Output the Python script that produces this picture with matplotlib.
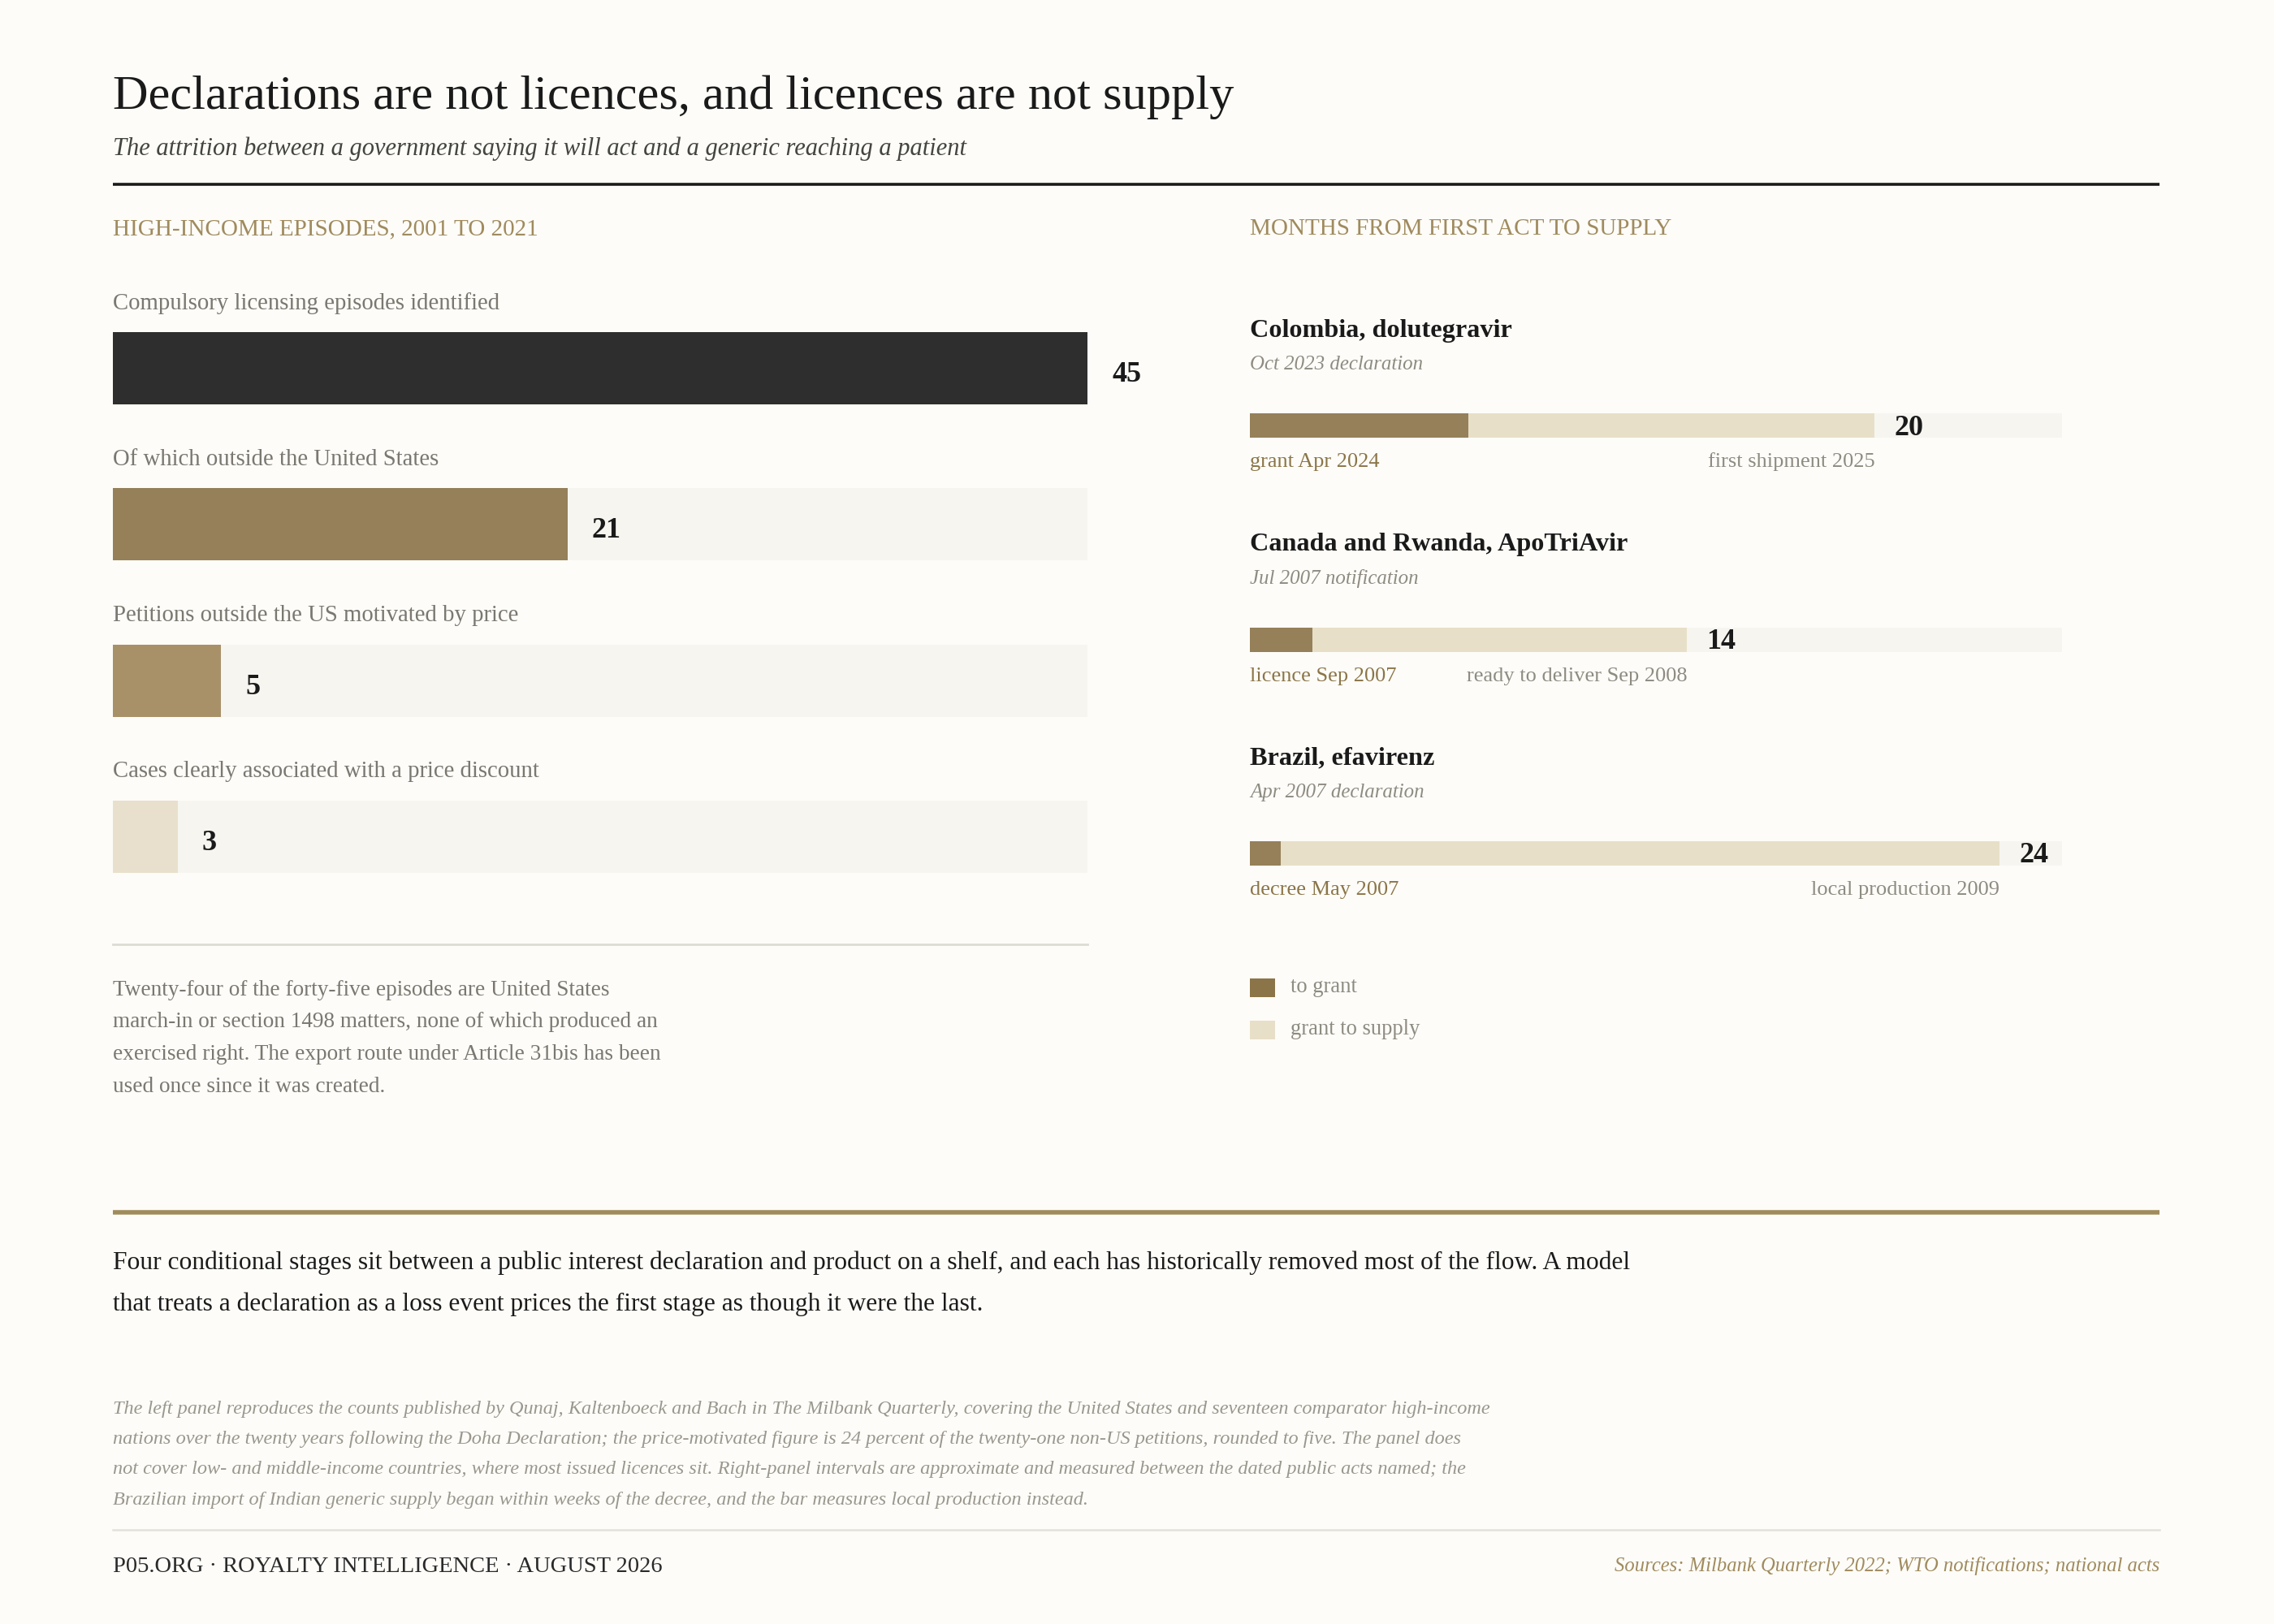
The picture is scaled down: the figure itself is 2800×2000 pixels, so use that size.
import matplotlib
matplotlib.use("Agg")
import matplotlib.pyplot as plt
from matplotlib.patches import Rectangle

# ---------------- data ----------------
left_labels = ["Compulsory licensing episodes identified",
               "Of which outside the United States",
               "Petitions outside the US motivated by price",
               "Cases clearly associated with a price discount"]
left_values = [45, 21, 5, 3]
left_max = 45

cases = ["Colombia, dolutegravir", "Canada and Rwanda, ApoTriAvir", "Brazil, efavirenz"]
case_sub = ["Oct 2023 declaration", "Jul 2007 notification", "Apr 2007 declaration"]
months_to_grant = [7, 2, 1]
months_total = [20, 14, 24]
grant_labels = ["grant Apr 2024", "licence Sep 2007", "decree May 2007"]
supply_labels = ["first shipment 2025", "ready to deliver Sep 2008", "local production 2009"]
right_max = 26

legend_labels = ["to grant", "grant to supply"]

title = "Declarations are not licences, and licences are not supply"
subtitle = "The attrition between a government saying it will act and a generic reaching a patient"
left_header = "HIGH-INCOME EPISODES, 2001 TO 2021"
right_header = "MONTHS FROM FIRST ACT TO SUPPLY"
note_lines = ["Twenty-four of the forty-five episodes are United States",
              "march-in or section 1498 matters, none of which produced an",
              "exercised right. The export route under Article 31bis has been",
              "used once since it was created."]
para_lines = ["Four conditional stages sit between a public interest declaration and product on a shelf, and each has historically removed most of the flow. A model",
              "that treats a declaration as a loss event prices the first stage as though it were the last."]
foot_lines = ["The left panel reproduces the counts published by Qunaj, Kaltenboeck and Bach in The Milbank Quarterly, covering the United States and seventeen comparator high-income",
              "nations over the twenty years following the Doha Declaration; the price-motivated figure is 24 percent of the twenty-one non-US petitions, rounded to five. The panel does",
              "not cover low- and middle-income countries, where most issued licences sit. Right-panel intervals are approximate and measured between the dated public acts named; the",
              "Brazilian import of Indian generic supply began within weeks of the decree, and the bar measures local production instead."]
footer_left = "P05.ORG · ROYALTY INTELLIGENCE · AUGUST 2026"
footer_right = "Sources: Milbank Quarterly 2022; WTO notifications; national acts"

# ---------------- style ----------------
BG = "#FDFCF8"
INK = "#1A1A1A"
GOLD = "#A08B5E"
GREY = "#7A7870"
LGREY = "#8E8B81"
TRACK = "#F6F5F0"
left_colors = ["#2E2E2E", "#95805A", "#A89068", "#E8E0CC"]
C_GRANT = "#95805A"
C_SUPPLY = "#E8DFC8"
SERIF = ["Liberation Serif", "DejaVu Serif"]
plt.rcParams["font.family"] = SERIF

W, H = 2800, 2000
fig = plt.figure(figsize=(W / 100, H / 100), dpi=100, facecolor=BG)

canvas = fig.add_axes([0, 0, 1, 1])
canvas.set_xlim(0, W)
canvas.set_ylim(H, 0)
canvas.axis("off")
canvas.set_facecolor(BG)

X0 = 139
XR = 2659

# titles
canvas.text(X0, 134, title, fontsize=43.5, color=INK, va="baseline", ha="left")
canvas.text(X0, 191, subtitle, fontsize=22, style="italic", color="#444440", va="baseline", ha="left")
canvas.plot([X0, XR], [227, 227], color=INK, lw=2.6, solid_capstyle="butt")

canvas.text(X0, 282, left_header, fontsize=21, color=GOLD, va="center", ha="left")
canvas.text(1539, 282, right_header, fontsize=21, color=GOLD, va="center", ha="left")

# ---------------- left panel ----------------
L_X1 = 1339
bar_c0, bar_step, bar_h = 453.5, 192.3, 89
top_pix, bot_pix = 300, 1150
axL = fig.add_axes([X0 / W, 1 - bot_pix / H, (L_X1 - X0) / W, (bot_pix - top_pix) / H])
axL.set_xlim(0, left_max)
axL.set_ylim((bot_pix - bar_c0) / bar_step, (top_pix - bar_c0) / bar_step)
axL.axis("off")
axL.patch.set_alpha(0)
ypos = list(range(len(left_values)))
hh = bar_h / bar_step
axL.barh(ypos, [left_max] * len(ypos), height=hh, color=TRACK, lw=0)
axL.barh(ypos, left_values, height=hh, color=left_colors, lw=0)
for i, (lab, v) in enumerate(zip(left_labels, left_values)):
    axL.annotate(str(v), xy=(v, i), xytext=(30, -8), textcoords="offset pixels",
                 fontsize=26, fontweight="bold", color=INK, va="center", ha="left")
    axL.annotate(lab, xy=(0, i), xytext=(0, 80), textcoords="offset pixels",
                 fontsize=20.7, color=GREY, va="center", ha="left")

canvas.plot([X0, L_X1], [1163, 1163], color="#DDDCD3", lw=2)
for k, ln in enumerate(note_lines):
    canvas.text(X0, 1219 + 39.7 * k, ln, fontsize=19.6, color=GREY, va="center", ha="left")

# ---------------- right panel ----------------
R_X0, R_X1 = 1539, 2539
r_c0, r_step, r_h = 524, 263.5, 30
rtop, rbot = 330, 1130
axR = fig.add_axes([R_X0 / W, 1 - rbot / H, (R_X1 - R_X0) / W, (rbot - rtop) / H])
axR.set_xlim(0, right_max)
axR.set_ylim((rbot - r_c0) / r_step, (rtop - r_c0) / r_step)
axR.axis("off")
axR.patch.set_alpha(0)
rows = list(range(len(cases)))
rh = r_h / r_step
axR.barh(rows, [right_max] * len(rows), height=rh, color=TRACK, lw=0)
axR.barh(rows, months_to_grant, height=rh, color=C_GRANT, lw=0)
axR.barh(rows, [t - g for t, g in zip(months_total, months_to_grant)], left=months_to_grant,
         height=rh, color=C_SUPPLY, lw=0)
for i in rows:
    axR.annotate(cases[i], xy=(0, i), xytext=(0, 117), textcoords="offset pixels",
                 fontsize=23.2, fontweight="bold", color=INK, va="center", ha="left")
    axR.annotate(case_sub[i], xy=(0, i), xytext=(0, 75), textcoords="offset pixels",
                 fontsize=17.9, style="italic", color=LGREY, va="center", ha="left")
    axR.annotate(str(months_total[i]), xy=(months_total[i], i), xytext=(24, -3),
                 textcoords="offset pixels", fontsize=26, fontweight="bold", color=INK,
                 va="center", ha="left")
    axR.annotate(grant_labels[i], xy=(0, i), xytext=(0, -45), textcoords="offset pixels",
                 fontsize=19, color="#8B7548", va="center", ha="left")
    axR.annotate(supply_labels[i], xy=(months_total[i], i), xytext=(0, -45),
                 textcoords="offset pixels", fontsize=19, color=LGREY, va="center", ha="right")

# legend
for k, (lab, col) in enumerate(zip(legend_labels, ["#8B7548", C_SUPPLY])):
    yc = 1216 + 52 * k
    canvas.add_patch(Rectangle((R_X0, yc - 11.5), 31, 23, color=col, lw=0))
    canvas.text(1589, yc, lab, fontsize=19.2, color=LGREY, va="center", ha="left")

# ---------------- bottom ----------------
canvas.plot([X0, XR], [1493, 1493], color="#A08C5B", lw=4, solid_capstyle="butt")
for k, ln in enumerate(para_lines):
    canvas.text(X0, 1555 + 51.5 * k, ln, fontsize=22.7, color=INK, va="center", ha="left")
for k, ln in enumerate(foot_lines):
    canvas.text(X0, 1735 + 37.4 * k, ln, fontsize=17.5, style="italic", color="#9A978D",
                va="center", ha="left")
canvas.plot([X0, XR], [1884, 1884], color="#E3E2DA", lw=1.8)
canvas.text(X0, 1929, footer_left, fontsize=20.5, color="#2A2A2A", va="center", ha="left")
canvas.text(XR, 1929, footer_right, fontsize=17.7, style="italic", color=GOLD, va="center", ha="right")

fig.savefig("out.png", dpi=100, facecolor=BG)
